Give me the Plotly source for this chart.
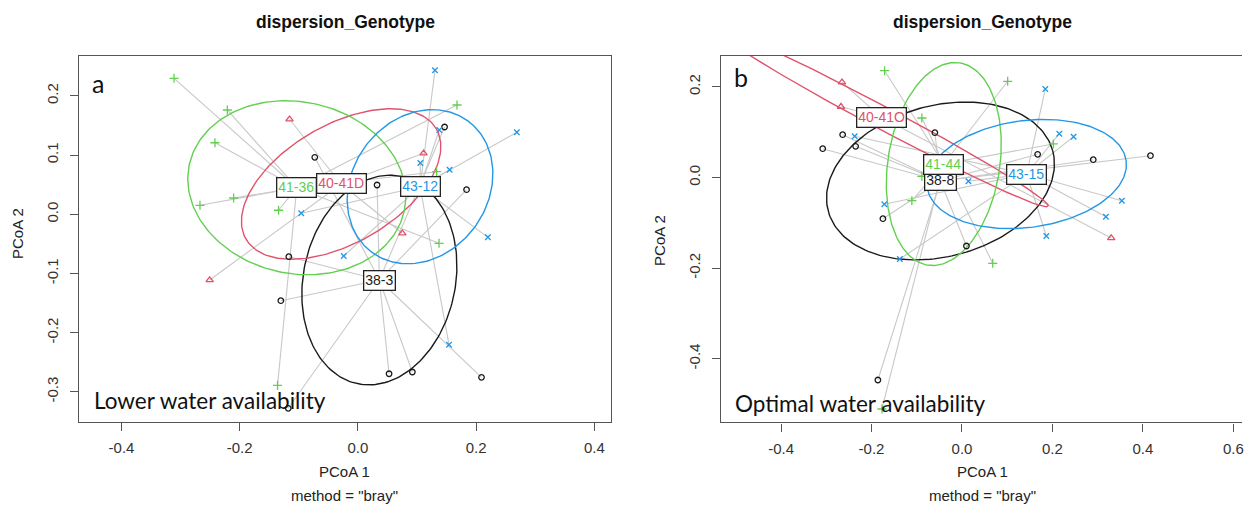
import numpy as np
import plotly.graph_objects as go

W, H = 1244, 511

# ---------------------------------------------------------------------------
# Panel a: lower water availability (PCoA 1 / PCoA 2 scores, Bray-Curtis)
# ---------------------------------------------------------------------------
a_groups = ["38-3", "40-41D", "41-36", "43-12"]

a_38_3_x = [-0.0730, 0.1466, 0.0324, 0.1838, -0.1169, -0.1304, -0.1179, 0.0527, 0.0921, 0.2091]
a_38_3_y = [0.0963, 0.1475, 0.0495, 0.0416, -0.0716, -0.1459, -0.3277, -0.2693, -0.2664, -0.2753]

a_40_41D_x = [-0.1157, 0.1111, 0.0752, -0.2508]
a_40_41D_y = [0.1605, 0.1030, -0.0321, -0.1110]

a_41_36_x = [-0.3111, -0.2209, -0.2419, -0.2103, -0.2672, -0.1343, 0.1676, 0.1331, 0.1372, -0.1360]
a_41_36_y = [0.2297, 0.1762, 0.1209, 0.0275, 0.0152, 0.0068, 0.1846, 0.0720, -0.0490, -0.2889]

a_43_12_x = [-0.0959, -0.0240, 0.1304, 0.1377, 0.2689, 0.1056, 0.1551, 0.2199, 0.1541]
a_43_12_y = [0.0017, -0.0704, 0.2432, 0.1424, 0.1385, 0.0867, 0.0753, -0.0389, -0.2203]

a_centroid_x = [0.0363, -0.0284, -0.1034, 0.1051]
a_centroid_y = [-0.1110, 0.0512, 0.0449, 0.0466]

# standard-deviation ellipses: semi-axes and rotation (degrees)
a_ell_major = [0.179, 0.186, 0.186, 0.1375]
a_ell_minor = [0.1286, 0.100, 0.145, 0.115]
a_ell_angle = [78, 30, -12, 54]

# ---------------------------------------------------------------------------
# Panel b: optimal water availability
# ---------------------------------------------------------------------------
b_groups = ["38-8", "40-41O", "41-44", "43-15"]

b_38_8_x = [-0.0600, -0.2638, -0.2351, -0.3079, -0.1748, 0.0099, 0.1673, 0.2903, 0.4168, -0.1859]
b_38_8_y = [0.0989, 0.0945, 0.0689, 0.0636, -0.0909, -0.1512, 0.0512, 0.0393, 0.0481, -0.4470]

b_40_41O_x = [-0.2653, -0.2675, 0.3300]
b_40_41O_y = [0.2102, 0.1563, -0.1336]

b_41_44_x = [-0.1711, -0.0887, -0.0887, -0.1108, 0.1011, 0.2020, 0.0680, -0.1770]
b_41_44_y = [0.2358, 0.1313, 0.0026, -0.0512, 0.2124, 0.0740, -0.1894, -0.5110]

b_43_15_x = [-0.2373, -0.1717, -0.1373, 0.1843, 0.2152, 0.2468, 0.0143, 0.3536, 0.3183, 0.1865]
b_43_15_y = [0.0909, -0.0592, -0.1799, 0.1954, 0.0967, 0.0901, -0.0084, -0.0512, -0.0865, -0.1291]

b_centroid_x = [-0.0475, -0.1784, -0.0402, 0.1430]
b_centroid_y = [-0.0077, 0.1329, 0.0298, 0.0077]

b_ell_major = [0.257, 0.418, 0.226, 0.222]
b_ell_minor = [0.1667, 0.025, 0.1236, 0.118]
b_ell_angle = [15, -28, 81, 7.5]

a_xticks = [-0.4, -0.2, 0.0, 0.2, 0.4]
a_yticks = [-0.3, -0.2, -0.1, 0.0, 0.1, 0.2]
b_xticks = [-0.4, -0.2, 0.0, 0.2, 0.4, 0.6]
b_yticks = [-0.4, -0.2, 0.0, 0.2]

# ---------------------------------------------------------------------------
COLORS = ["#1a1a1a", "#DF536B", "#61D04F", "#2297E6"]
SYMBOLS = ["circle-open", "triangle-up-open", "cross-thin-open", "x-thin-open"]
SIZES = [5.5, 6.5, 6.5, 5.5]
SPOKE = "#c8c8c8"
AXIS = "#555555"
FONT = "Liberation Sans, Arial, sans-serif"

panels = [
    dict(xa="x", ya="y", groups=a_groups,
         pts=[(a_38_3_x, a_38_3_y), (a_40_41D_x, a_40_41D_y),
              (a_41_36_x, a_41_36_y), (a_43_12_x, a_43_12_y)],
         cx=a_centroid_x, cy=a_centroid_y,
         ea=a_ell_major, eb=a_ell_minor, eth=a_ell_angle),
    dict(xa="x2", ya="y2", groups=b_groups,
         pts=[(b_38_8_x, b_38_8_y), (b_40_41O_x, b_40_41O_y),
              (b_41_44_x, b_41_44_y), (b_43_15_x, b_43_15_y)],
         cx=b_centroid_x, cy=b_centroid_y,
         ea=b_ell_major, eb=b_ell_minor, eth=b_ell_angle),
]


def ellipse_path(cx, cy, a, b, deg, n=200):
    t = np.linspace(0, 2 * np.pi, n)
    th = np.deg2rad(deg)
    ex = a * np.cos(t)
    ey = b * np.sin(t)
    return (cx + ex * np.cos(th) - ey * np.sin(th),
            cy + ex * np.sin(th) + ey * np.cos(th))


fig = go.Figure()
annotations = []

for p in panels:
    # spokes from every sample to its group centroid
    for gi, (xs, ys) in enumerate(p["pts"]):
        sx, sy = [], []
        for x, y in zip(xs, ys):
            sx += [x, p["cx"][gi], None]
            sy += [y, p["cy"][gi], None]
        fig.add_trace(go.Scatter(x=sx, y=sy, mode="lines", xaxis=p["xa"], yaxis=p["ya"],
                                 line=dict(color=SPOKE, width=1.1),
                                 hoverinfo="skip", showlegend=False))
    # dispersion ellipses
    for gi in range(len(p["groups"])):
        ex, ey = ellipse_path(p["cx"][gi], p["cy"][gi], p["ea"][gi], p["eb"][gi], p["eth"][gi])
        fig.add_trace(go.Scatter(x=ex, y=ey, mode="lines", xaxis=p["xa"], yaxis=p["ya"],
                                 line=dict(color=COLORS[gi], width=1.4),
                                 hoverinfo="skip", showlegend=False))
    # samples
    for gi, (xs, ys) in enumerate(p["pts"]):
        fig.add_trace(go.Scatter(x=xs, y=ys, mode="markers", xaxis=p["xa"], yaxis=p["ya"],
                                 marker=dict(symbol=SYMBOLS[gi], size=SIZES[gi], color=COLORS[gi],
                                             line=dict(width=1.3, color=COLORS[gi])),
                                 name=p["groups"][gi], showlegend=False))
    # centroid labels
    for gi, name in enumerate(p["groups"]):
        annotations.append(dict(x=p["cx"][gi], y=p["cy"][gi], xref=p["xa"], yref=p["ya"],
                                text=name, showarrow=False,
                                font=dict(family=FONT, size=14, color=COLORS[gi]),
                                bgcolor="white", bordercolor="#222222", borderwidth=1.3,
                                borderpad=1))


def px(x):
    return x / W


def py(y):
    return 1 - y / H


axis_common = dict(showgrid=False, zeroline=False, showline=True, linecolor=AXIS, linewidth=1.4,
                   ticks="outside", ticklen=8, tickcolor=AXIS, tickwidth=1.3,
                   ticklabeloverflow="allow",
                   tickfont=dict(family=FONT, size=15, color="#333333"))


def fmt(v):
    return f"{v:.1f}" if abs(v) > 1e-9 else "0.0"


fig.update_layout(
    width=W, height=H, margin=dict(l=0, r=0, t=0, b=0),
    paper_bgcolor="white", plot_bgcolor="white",
    xaxis=dict(domain=[px(79.3), px(611.7)], range=[-0.4716, 0.4277], anchor="y", mirror=True,
               tickvals=a_xticks, ticktext=[fmt(v) for v in a_xticks], ticklabelstandoff=4, **axis_common),
    yaxis=dict(domain=[py(421.5), py(56)], range=[-0.350, 0.2674], anchor="x", mirror=True,
               tickvals=a_yticks, ticktext=[fmt(v) for v in a_yticks], tickangle=-90,
               ticklabelstandoff=6, **axis_common),
    xaxis2=dict(domain=[px(722.3), 1.0], range=[-0.5325, 0.6192], anchor="y2", mirror=True,
                tickvals=b_xticks, ticktext=[fmt(v) for v in b_xticks], ticklabelstandoff=4, **axis_common),
    yaxis2=dict(domain=[py(422.3), py(56)], range=[-0.5404, 0.2682], anchor="x2", mirror=False,
                tickvals=b_yticks, ticktext=[fmt(v) for v in b_yticks], tickangle=-90,
                ticklabelstandoff=6, **axis_common),
)

text_items = [
    # titles
    dict(x=px(346), y=py(22), text="<b>dispersion_Genotype</b>", size=17.5, color="#111"),
    dict(x=px(984), y=py(22), text="<b>dispersion_Genotype</b>", size=17.5, color="#111"),
    # x axis titles
    dict(x=px(345.5), y=py(471), text="PCoA 1", size=15, color="#222"),
    dict(x=px(345.5), y=py(495), text='method = "bray"', size=15, color="#222"),
    dict(x=px(984), y=py(471), text="PCoA 1", size=15, color="#222"),
    dict(x=px(984), y=py(495), text='method = "bray"', size=15, color="#222"),
]
for t in text_items:
    annotations.append(dict(x=t["x"], y=t["y"], xref="paper", yref="paper", text=t["text"],
                            showarrow=False, xanchor="center", yanchor="middle",
                            font=dict(family=FONT, size=t["size"], color=t["color"])))

# y axis titles
for xpos, ypos in [(18, 233), (660, 240)]:
    annotations.append(dict(x=px(xpos), y=py(ypos), xref="paper", yref="paper", text="PCoA 2",
                            showarrow=False, textangle=-90, xanchor="center", yanchor="middle",
                            font=dict(family=FONT, size=15, color="#222")))

# panel letters and condition captions
for xpos, ypos, txt in [(98, 83, "a"), (742, 77, "b")]:
    annotations.append(dict(x=px(xpos), y=py(ypos), xref="paper", yref="paper", text=txt,
                            showarrow=False, xanchor="center", yanchor="middle",
                            font=dict(family="Lato, sans-serif", size=25, color="#111")))
for xpos, ypos, txt in [(92, 400, "Lower water availability"), (734, 403, "Optimal water availability")]:
    annotations.append(dict(x=px(xpos), y=py(ypos), xref="paper", yref="paper", text=txt,
                            showarrow=False, xanchor="left", yanchor="middle",
                            font=dict(family="Lato, sans-serif", size=22.5, color="#111")))

fig.update_layout(annotations=annotations)
fig.write_html("out.html")
